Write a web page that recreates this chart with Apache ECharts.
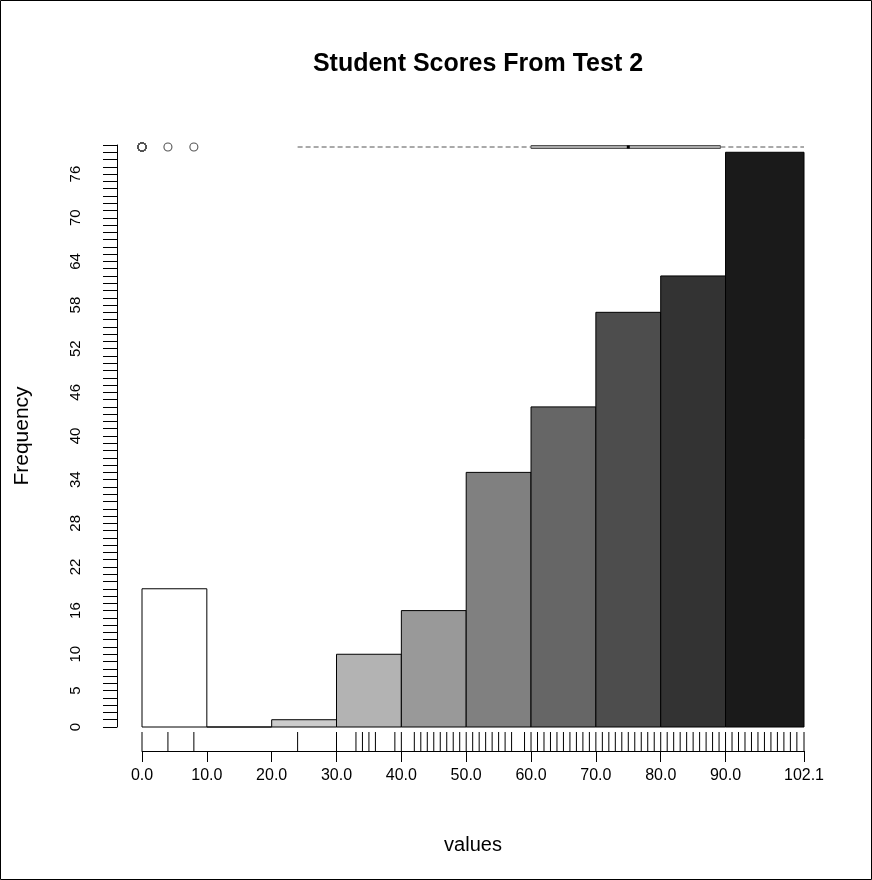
<!DOCTYPE html>
<html><head><meta charset="utf-8">
<script src="https://cdn.jsdelivr.net/npm/echarts@6/dist/echarts.min.js"></script>
<style>html,body{margin:0;padding:0;background:#fff}#c{width:872px;height:880px}</style>
</head><body><div id="c"></div>
<script>
// ---- data ----
const binEdges = [0, 10, 20, 30, 40, 50, 60, 70, 80, 90, 102.1];
const counts = [19, 0, 1, 10, 16, 35, 44, 57, 62, 79];
const boxStats = [24, 60, 75, 89.2, 102.1]; // lower whisker, Q1, median, Q3, upper whisker
const outliers = [0, 0, 0, 0, 0, 0, 0, 0, 0, 0, 0, 0, 0, 0, 0, 0, 0, 4, 8];
const rugValues = [0, 4, 8, 24, 30, 33, 34, 35, 36, 39, 40,
  42, 43, 44, 45, 46, 47, 48, 49, 50, 51, 52, 53, 54, 55, 56, 57, 59,
  60, 61, 62, 63, 64, 65, 66, 67, 68, 69, 70, 71, 72, 73, 74, 75, 76, 77, 78, 79, 80,
  81, 82, 83, 84, 85, 86, 87, 88, 89, 90, 91, 92, 93, 94, 95, 96, 97, 98, 99, 100, 101, 102.1];
const xTickValues = [0, 10, 20, 30, 40, 50, 60, 70, 80, 90, 102.1];
const yTickLabels = [0, 5, 10, 16, 22, 28, 34, 40, 46, 52, 58, 64, 70, 76];
const yMax = 80;

// ---- styles ----
const FONT = 'Liberation Sans';
const grayLevel = i => { const g = Math.round(255 - i * 229 / 9); return 'rgb(' + g + ',' + g + ',' + g + ')'; };
const yTicks = []; for (let v = 0; v <= yMax; v++) yTicks.push(v);
const xMin = binEdges[0], xMax = binEdges[binEdges.length - 1];

const chart = echarts.init(document.getElementById('c'), null, {renderer: 'canvas'});
chart.setOption({
  backgroundColor: '#fff',
  animation: false,
  title: {
    text: 'Student Scores From Test 2', left: 473, top: 47, textAlign: 'center',
    textStyle: {fontFamily: FONT, fontSize: 25, fontWeight: 'bold', color: '#000'}
  },
  graphic: [{type: 'rect', shape: {x: 0.5, y: 0.5, width: 871, height: 879}, style: {fill: 'none', stroke: '#000', lineWidth: 1}, silent: true}],
  grid: [
    {left: 142, right: 68, top: 145, bottom: 153},
    {left: 142, right: 68, top: 140, height: 14},
    {left: 142, right: 68, top: 732, height: 19}
  ],
  xAxis: [
    {
      gridIndex: 0, type: 'value', min: xMin, max: xMax, offset: 24,
      axisLine: {show: true, onZero: false, lineStyle: {color: '#000', width: 1}},
      axisTick: {show: true, customValues: xTickValues, length: 11, lineStyle: {color: '#000'}},
      axisLabel: {customValues: xTickValues, formatter: v => Number(v).toFixed(1), fontFamily: FONT, fontSize: 16, color: '#000', margin: 17},
      splitLine: {show: false},
      name: 'values', nameLocation: 'middle', nameGap: 84,
      nameTextStyle: {fontFamily: FONT, fontSize: 20, color: '#000'}
    },
    {gridIndex: 1, type: 'value', min: xMin, max: xMax, show: false},
    {gridIndex: 2, type: 'value', min: xMin, max: xMax, show: false}
  ],
  yAxis: [
    {
      gridIndex: 0, type: 'value', min: 0, max: yMax, offset: 25,
      axisLine: {show: true, onZero: false, lineStyle: {color: '#000', width: 1}},
      axisTick: {show: true, customValues: yTicks, length: 14, lineStyle: {color: '#000'}},
      axisLabel: {customValues: yTickLabels, rotate: 90, fontFamily: FONT, fontSize: 15, color: '#000', margin: 34},
      splitLine: {show: false},
      name: 'Frequency', nameLocation: 'middle', nameGap: 84, nameRotate: 90,
      nameTextStyle: {fontFamily: FONT, fontSize: 21, color: '#000'}
    },
    {gridIndex: 1, type: 'value', min: 0, max: 1, show: false},
    {gridIndex: 2, type: 'value', min: 0, max: 1, show: false}
  ],
  series: [
    {
      type: 'custom', name: 'hist', xAxisIndex: 0, yAxisIndex: 0,
      data: counts.map((c, i) => [binEdges[i], binEdges[i + 1], c, i]),
      encode: {x: [0, 1], y: 2},
      renderItem: (params, api) => {
        const p0 = api.coord([api.value(0), 0]);
        const p1 = api.coord([api.value(1), api.value(2)]);
        return {
          type: 'rect',
          shape: {x: p0[0], y: p1[1], width: p1[0] - p0[0], height: p0[1] - p1[1]},
          style: {fill: grayLevel(api.value(3)), stroke: '#000', lineWidth: 1}
        };
      }
    },
    {
      type: 'custom', name: 'box', xAxisIndex: 1, yAxisIndex: 1,
      data: [boxStats],
      encode: {x: [0, 1, 2, 3, 4]},
      clip: false,
      renderItem: (params, api) => {
        const c = v => api.coord([api.value(v), 0.5]);
        const lo = c(0), q1 = c(1), md = c(2), q3 = c(3), hi = c(4);
        const y = lo[1];
        const dash = {stroke: '#555', lineWidth: 1, lineDash: [5, 3]};
        return {
          type: 'group', children: [
            {type: 'line', shape: {x1: lo[0], y1: y, x2: q1[0], y2: y}, style: dash},
            {type: 'line', shape: {x1: q3[0], y1: y, x2: hi[0], y2: y}, style: dash},
            {type: 'rect', shape: {x: q1[0], y: y - 1.5, width: q3[0] - q1[0], height: 3}, style: {fill: '#aaa', stroke: '#555', lineWidth: 1}},
            {type: 'line', shape: {x1: md[0] - 1.5, y1: y, x2: md[0] + 1.5, y2: y}, style: {stroke: '#000', lineWidth: 3}}
          ]
        };
      }
    },
    {
      type: 'custom', name: 'outliers', xAxisIndex: 1, yAxisIndex: 1,
      data: outliers.map(v => [v, 0.5]),
      encode: {x: 0, y: 1},
      clip: false,
      renderItem: (params, api) => {
        const p = api.coord([api.value(0), api.value(1)]);
        return {type: 'circle', shape: {cx: p[0], cy: p[1], r: 4}, style: {fill: 'none', stroke: '#555', lineWidth: 1.1}};
      }
    },
    {
      type: 'custom', name: 'rug', xAxisIndex: 2, yAxisIndex: 2,
      data: rugValues.map(v => [v]),
      encode: {x: 0},
      clip: false,
      renderItem: (params, api) => {
        const a = api.coord([api.value(0), 0]);
        const b = api.coord([api.value(0), 1]);
        return {type: 'line', shape: {x1: a[0], y1: a[1], x2: b[0], y2: b[1]}, style: {stroke: '#000', lineWidth: 1}};
      }
    }
  ]
});
</script>
</body></html>
